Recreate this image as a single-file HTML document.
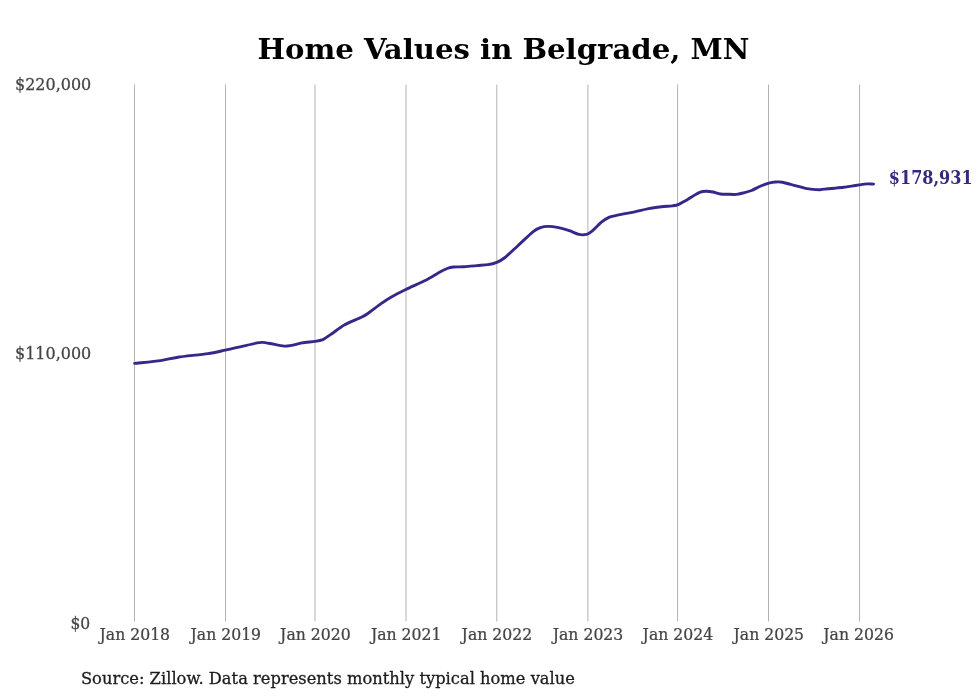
<!DOCTYPE html>
<html lang="en">
<head>
<meta charset="utf-8">
<title>Home Values in Belgrade, MN</title>
<style>
html,body{margin:0;padding:0;background:#fff;}
body{width:980px;height:699px;overflow:hidden;font-family:"DejaVu Serif","Liberation Serif",serif;}
svg{display:block;}
svg text{font-family:"DejaVu Serif","Liberation Serif",serif;}
.grid line{stroke:#b3b3b3;stroke-width:1;}
.xl text{font-size:16px;fill:#444;stroke:#444;stroke-width:0.25px;}
.yl{font-size:16.4px;fill:#444;stroke:#444;stroke-width:0.25px;}
.title{font-size:27.6px;font-weight:bold;fill:#000;}
.src{font-size:16.8px;fill:#1c1c1c;stroke:#1c1c1c;stroke-width:0.3px;}
.val{font-size:18px;font-weight:bold;fill:#322a7c;}
</style>
</head>
<body>
<svg width="980" height="699" viewBox="0 0 980 699">
<rect width="980" height="699" fill="#ffffff"/>
<text class="title" transform="translate(503.4,59.3) scale(1.056,1)" text-anchor="middle">Home Values in Belgrade, MN</text>
<g class="grid">
<line x1="134.5" y1="84.5" x2="134.5" y2="621.5" />
<line x1="225.5" y1="84.5" x2="225.5" y2="621.5" />
<line x1="315.0" y1="84.5" x2="315.0" y2="621.5" />
<line x1="406.0" y1="84.5" x2="406.0" y2="621.5" />
<line x1="496.8" y1="84.5" x2="496.8" y2="621.5" />
<line x1="587.9" y1="84.5" x2="587.9" y2="621.5" />
<line x1="677.6" y1="84.5" x2="677.6" y2="621.5" />
<line x1="768.5" y1="84.5" x2="768.5" y2="621.5" />
<line x1="859.5" y1="84.5" x2="859.5" y2="621.5" />
</g>
<g>
<text class="yl" transform="translate(91.3,90.4) scale(0.975,1)" text-anchor="end">$220,000</text>
<text class="yl" transform="translate(91.3,359.4) scale(0.975,1)" text-anchor="end">$110,000</text>
<text class="yl" transform="translate(90.2,628.5) scale(0.95,1)" text-anchor="end">$0</text>
</g>
<g class="xl">
<text transform="translate(134.8,640.4) scale(0.98,1)" text-anchor="middle">Jan 2018</text>
<text transform="translate(225.8,640.4) scale(0.98,1)" text-anchor="middle">Jan 2019</text>
<text transform="translate(315.4,640.4) scale(0.98,1)" text-anchor="middle">Jan 2020</text>
<text transform="translate(406.2,640.4) scale(0.98,1)" text-anchor="middle">Jan 2021</text>
<text transform="translate(496.9,640.4) scale(0.98,1)" text-anchor="middle">Jan 2022</text>
<text transform="translate(588.0,640.4) scale(0.98,1)" text-anchor="middle">Jan 2023</text>
<text transform="translate(677.9,640.4) scale(0.98,1)" text-anchor="middle">Jan 2024</text>
<text transform="translate(768.8,640.4) scale(0.98,1)" text-anchor="middle">Jan 2025</text>
<text transform="translate(858.6,640.4) scale(0.98,1)" text-anchor="middle">Jan 2026</text>
</g>
<path d="M134.6,363.4 C138.1,363.0 154.9,361.4 160.7,360.6 C166.5,359.8 171.6,358.1 177.9,357.2 C184.2,356.3 201.6,354.5 207.9,353.6 C214.2,352.7 220.9,351.0 225.2,350.1 C229.5,349.2 235.7,347.9 240.0,346.9 C244.3,345.9 254.1,343.5 257.1,342.9 C260.1,342.3 260.8,342.3 262.5,342.4 C264.2,342.5 267.1,343.0 270.0,343.5 C272.9,344.0 281.1,345.8 284.0,346.1 C286.9,346.4 289.0,345.8 291.4,345.4 C293.8,345.0 299.0,343.4 302.1,342.9 C305.2,342.4 312.2,341.8 315.0,341.4 C317.8,341.0 320.7,340.6 322.9,339.6 C325.1,338.6 328.5,335.9 331.4,334.0 C334.3,332.1 340.3,327.2 344.3,325.0 C348.3,322.8 358.3,318.7 361.4,317.2 C364.5,315.7 365.3,315.3 367.9,313.5 C370.5,311.7 377.6,306.1 380.7,303.9 C383.8,301.7 388.1,298.9 391.4,297.0 C394.7,295.1 401.2,291.7 405.8,289.5 C410.4,287.3 421.3,282.5 425.7,280.3 C430.1,278.1 435.7,274.4 438.6,272.8 C441.5,271.2 445.1,269.3 447.1,268.5 C449.1,267.7 451.3,267.2 453.6,267.0 C455.9,266.8 461.2,267.0 464.3,266.8 C467.4,266.6 474.0,265.9 477.1,265.6 C480.2,265.3 485.3,265.0 487.9,264.6 C490.5,264.2 494.5,263.2 496.8,262.3 C499.1,261.4 502.2,259.7 505.0,257.5 C507.8,255.3 514.2,249.1 517.9,245.7 C521.6,242.3 529.9,234.2 532.9,231.8 C535.9,229.4 538.4,228.4 540.4,227.7 C542.4,227.0 545.5,226.4 547.9,226.4 C550.3,226.4 555.7,227.1 558.6,227.7 C561.5,228.3 566.6,229.8 569.3,230.7 C572.0,231.6 576.6,233.9 578.9,234.4 C581.2,234.9 584.5,234.9 586.4,234.4 C588.3,233.9 590.9,231.9 592.9,230.3 C594.9,228.7 599.3,223.8 601.4,222.1 C603.5,220.4 606.6,218.4 608.9,217.4 C611.2,216.4 615.3,215.6 618.6,214.9 C621.9,214.2 629.6,212.9 633.6,212.1 C637.6,211.3 644.9,209.3 648.6,208.6 C652.3,207.9 658.3,207.1 661.4,206.7 C664.5,206.3 669.9,206.2 672.1,205.9 C674.3,205.6 676.5,205.4 678.2,204.7 C679.9,204.0 683.1,202.0 685.0,200.9 C686.9,199.8 690.6,197.5 692.5,196.4 C694.4,195.3 697.8,193.0 699.6,192.3 C701.4,191.6 704.5,191.2 706.3,191.2 C708.1,191.2 711.2,191.6 713.1,192.0 C715.0,192.4 718.3,193.7 720.4,194.0 C722.5,194.3 726.4,194.2 728.5,194.3 C730.6,194.4 734.3,194.6 736.3,194.4 C738.3,194.2 741.7,193.3 743.7,192.8 C745.7,192.3 749.5,191.3 751.6,190.5 C753.7,189.7 757.3,187.5 759.6,186.5 C761.9,185.5 766.7,183.8 768.8,183.2 C770.9,182.6 773.7,182.1 775.5,182.0 C777.3,181.9 780.5,181.9 782.5,182.2 C784.5,182.5 788.4,183.9 790.5,184.4 C792.6,184.9 796.2,185.8 798.2,186.3 C800.2,186.8 803.5,188.0 805.5,188.4 C807.5,188.8 810.9,189.2 812.9,189.4 C814.9,189.6 818.2,189.8 820.2,189.7 C822.2,189.6 825.6,189.0 827.6,188.8 C829.6,188.6 832.8,188.4 834.9,188.2 C837.0,188.0 841.3,187.6 843.5,187.3 C845.7,187.0 849.3,186.4 851.4,186.1 C853.5,185.8 857.4,185.2 859.4,184.9 C861.4,184.6 864.8,184.0 866.7,183.9 C868.6,183.8 872.7,184.1 873.6,184.1" fill="none" stroke="#34298a" stroke-width="2.9" stroke-linejoin="round" stroke-linecap="round"/>
<text class="val" transform="translate(888.8,183.9) scale(0.893,1)">$178,931</text>
<text class="src" transform="translate(80.9,683.9) scale(0.971,1)">Source: Zillow. Data represents monthly typical home value</text>
</svg>
</body>
</html>
